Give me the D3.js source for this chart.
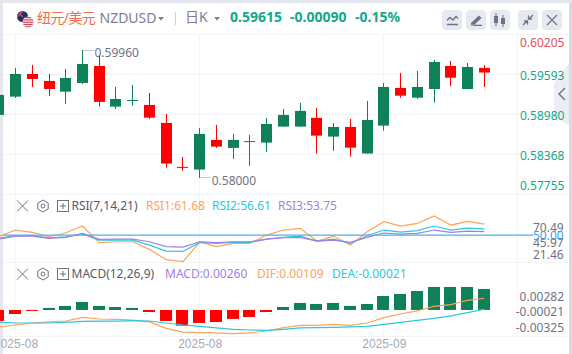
<!DOCTYPE html>
<html>
<head>
<meta charset="utf-8">
<script src="https://cdn.jsdelivr.net/npm/d3@7"></script>
<style>
  html, body { margin: 0; padding: 0; background: #fff; overflow: hidden; }
  svg { display: block; font-family: "Noto Sans", "Noto Sans CJK SC", sans-serif; }
  .xaxis path, .xaxis line { display: none; }
</style>
</head>
<body>
<svg id="chart" width="572" height="354"></svg>
<script>
// candles, left to right
const opens  = [0.58966,0.59246,0.59593,0.59486,0.59322,0.59455,0.59715,0.59093,0.59190,0.59119,0.58843,0.58170,0.58129,0.58583,0.58461,0.58560,0.58542,0.58787,0.58787,0.58920,0.58634,0.58782,0.58374,0.58802,0.59379,0.59230,0.59363,0.59715,0.59363,0.59685];
const closes = [0.59272,0.59593,0.59516,0.59363,0.59532,0.59746,0.59165,0.59210,0.59195,0.58924,0.58221,0.58162,0.58675,0.58481,0.58583,0.58565,0.58828,0.58966,0.59027,0.58649,0.58782,0.58465,0.58889,0.59394,0.59261,0.59394,0.59777,0.59536,0.59700,0.59615];
const highs  = [0.59272,0.59685,0.59731,0.59593,0.59670,0.59960,0.59884,0.59394,0.59425,0.59302,0.58981,0.58323,0.58767,0.58813,0.58675,0.58660,0.58920,0.59057,0.59149,0.59073,0.58843,0.58904,0.59180,0.59455,0.59608,0.59639,0.59807,0.59792,0.59761,0.59731];
const lows   = [0.58966,0.59226,0.59394,0.59256,0.59134,0.59440,0.59093,0.59057,0.59108,0.58904,0.58159,0.58113,0.58000,0.58461,0.58293,0.58185,0.58400,0.58787,0.58787,0.58374,0.58415,0.58328,0.58374,0.58725,0.59230,0.59211,0.59154,0.59409,0.59363,0.59394];

const rsi1 = [48.2,55.4,52.9,48.2,52.5,59.7,41.8,42.8,42.8,34.6,23.5,21.46,42.5,37.5,41.0,41.0,50.0,55.4,57.2,43.5,48.9,39.2,53.6,64.3,59.7,62.5,70.49,60.8,64.7,61.68];
const rsi2 = [46.4,49.3,49.3,47.1,48.2,51.1,44.6,44.6,44.6,39.2,32.8,32.4,42.1,41.0,42.1,42.1,45.7,47.5,48.9,43.5,45.7,41.0,49.3,55.4,53.2,54.7,59.7,55.4,57.5,56.61];
const rsi3 = [45.7,48.9,48.9,46.4,47.5,51.8,45.3,45.7,45.7,42.8,37.5,37.1,42.8,41.8,42.8,42.8,45.7,47.1,47.5,43.5,44.6,42.1,47.5,52.2,51.1,51.8,55.4,52.9,54.3,53.75];

const macdBars = [-0.00136,-0.00050,-0.00012,0.00025,0.00050,0.00099,0.00050,0.00037,0.00025,-0.00025,-0.00136,-0.00194,-0.00161,-0.00149,-0.00111,-0.00087,-0.00025,0.00037,0.00087,0.00074,0.00087,0.00050,0.00074,0.00173,0.00198,0.00235,0.00285,0.00285,0.00285,0.00260];
const dif = [-0.00230,-0.00207,-0.00183,-0.00171,-0.00160,-0.00116,-0.00136,-0.00140,-0.00148,-0.00171,-0.00246,-0.00290,-0.00297,-0.00301,-0.00309,-0.00301,-0.00278,-0.00238,-0.00211,-0.00211,-0.00199,-0.00211,-0.00183,-0.00120,-0.00077,-0.00041,0.00014,0.00033,0.00085,0.00109];
const dea = [-0.00171,-0.00183,-0.00183,-0.00183,-0.00175,-0.00163,-0.00160,-0.00160,-0.00156,-0.00160,-0.00183,-0.00207,-0.00223,-0.00242,-0.00258,-0.00266,-0.00270,-0.00258,-0.00242,-0.00238,-0.00234,-0.00230,-0.00223,-0.00199,-0.00175,-0.00152,-0.00128,-0.00100,-0.00061,-0.00021];

const priceTicks = ["0.60205","0.59593","0.58980","0.58368","0.57755"];
const rsiTicks = ["70.49","45.97","21.46"];
const macdTicks = ["0.00282","-0.00021","-0.00325"];
const dateIndex = [1, 12, 23];
const dateLabels = ["2025-08", "2025-08", "2025-09"];

const UP = "#0f8158", DOWN = "#ff0000", TEAL = "#12a98a", GRID = "#f2f4f8";
const ORANGE = "#ffa357", CYAN = "#2cc7e0", PURPLE = "#a27fe6", LABEL = "#6f7385";

const svg = d3.select("#chart");
const x = d3.scalePoint().domain(d3.range(opens.length)).range([-1.2, 484.3]);
const priceY = d3.scaleLinear().domain([0.60205, 0.57755]).range([34, 194]);
const rsiY = d3.scaleLinear().domain([70.49, 21.46]).range([216, 261.6]);
const barY = d3.scaleLinear().domain([0.00282, -0.00325]).range([287.2, 336.2]);
const lineY = d3.scaleLinear().domain([0.00282, -0.00325]).range([283.6, 335]);
const mid = function(i){ return Math.floor(x(i)) + 0.5; };

// page edges
svg.append("rect").attr("width", 572).attr("height", 3).attr("fill", "#e4e7ee");
svg.append("rect").attr("y", 3).attr("width", 3).attr("height", 351).attr("fill", "#e4e7ee");
svg.append("rect").attr("x", 569).attr("y", 3).attr("width", 3).attr("height", 351).attr("fill", "#d8dbe2");

// grid
[34, 74, 114, 154, 194, 262, 336].forEach(function(y){
  svg.append("line").attr("x1", 3).attr("x2", 569).attr("y1", y + 0.5).attr("y2", y + 0.5)
    .attr("stroke", GRID).attr("stroke-width", 1);
});
dateIndex.forEach(function(i){
  svg.append("line").attr("x1", mid(i)).attr("x2", mid(i)).attr("y1", 34).attr("y2", 336)
    .attr("stroke", GRID);
});
svg.append("line").attr("x1", 517.5).attr("x2", 517.5).attr("y1", 34).attr("y2", 336).attr("stroke", GRID);

function label(px, py, str, size, fill, weight, anchor){
  return svg.append("text").attr("x", px).attr("y", py).attr("dy", "0.35em")
    .attr("font-size", size).attr("fill", fill)
    .attr("font-weight", weight || 400).attr("text-anchor", anchor || "start").text(str);
}

// header
const defs = svg.append("defs");
defs.append("clipPath").attr("id", "nz").append("circle").attr("cx", 22.5).attr("cy", 16.5).attr("r", 5.5);
defs.append("clipPath").attr("id", "us").append("circle").attr("cx", 28).attr("cy", 22).attr("r", 5.5);
svg.append("circle").attr("cx", 22.5).attr("cy", 16.5).attr("r", 5.5).attr("fill", "#20305f");
svg.append("path").attr("d", "M17 11L23 17M23 11L17 17").attr("stroke", "#d9465a").attr("stroke-width", 1.4).attr("clip-path", "url(#nz)");
svg.append("circle").attr("cx", 28).attr("cy", 22).attr("r", 5.5).attr("fill", "#f4f4f6");
d3.range(5).forEach(function(k){
  svg.append("rect").attr("x", 22).attr("y", 17 + k * 2.3).attr("width", 12).attr("height", 1.2)
    .attr("fill", "#d9465a").attr("clip-path", "url(#us)");
});

label(37, 18, "纽元/美元", 14, "#f36c45").attr("letter-spacing", -0.6);
label(99.5, 18.5, "NZDUSD", 14, "#7b7f90");
svg.append("path").attr("d", "M158 17h6l-3 3.5z").attr("fill", "#7b7f90");
svg.append("rect").attr("x", 175).attr("y", 12).attr("width", 1).attr("height", 13).attr("fill", "#cfd2da");
label(185, 17.5, "日K", 14, "#7b7f90");
svg.append("path").attr("d", "M214 17h6l-3 3.5z").attr("fill", "#7b7f90");
label(230, 17, "0.59615", 14, TEAL, 700);
label(290, 17, "-0.00090", 14, TEAL, 700);
label(355, 17, "-0.15%", 14, TEAL, 700);

// toolbar buttons
[442, 466, 490, 518, 542].forEach(function(bx){
  svg.append("rect").attr("x", bx).attr("y", 10).attr("width", 20).attr("height", 20).attr("rx", 4).attr("fill", "#e7e9f0");
});
const ICON = "#6d7182";
svg.append("path").attr("d", "M447 20.5l3-3 3 2.5 3-3.5 2 2 M447 24.5h11").attr("fill", "none").attr("stroke", ICON).attr("stroke-width", 1.3);
svg.append("path").attr("d", "M471 23l8-7.5 2.5 2.5-8 7.5h-2.5z M471 26h11v-1.2h-11z").attr("fill", ICON);
svg.append("path").attr("d", "M494 16h4v7h-4z M495.500 13h1v13h-1z M501 18h4v6h-4z M502.500 15h1v12h-1z").attr("fill", ICON);
svg.append("path").attr("d", "M523 25l4-4 M533 15l-4 4 M524 21h3.500v3.500 M532 19h-3.500v-3.500").attr("fill", "none").attr("stroke", ICON).attr("stroke-width", 1.3);
svg.append("path").attr("d", "M547 15l10 10 M557 15l-10 10").attr("fill", "none").attr("stroke", ICON).attr("stroke-width", 1.2);

// side collapse tab
svg.append("path").attr("d", "M554 83l15-20v62l-15-8z").attr("fill", "#eceef3");
svg.append("path").attr("d", "M565 88l-6 6 6 6").attr("fill", "none").attr("stroke", "#6d7182").attr("stroke-width", 1.4);

// candles
const idx = d3.range(opens.length);
const color = function(i){ return closes[i] >= opens[i] ? UP : DOWN; };
svg.append("g").selectAll("line").data(idx).join("line")
  .attr("x1", mid)
  .attr("x2", mid)
  .attr("y1", function(i){ return priceY(highs[i]); })
  .attr("y2", function(i){ return priceY(lows[i]); })
  .attr("stroke", color).attr("stroke-width", 1);
svg.append("g").selectAll("rect").data(idx).join("rect")
  .attr("x", function(i){ return Math.floor(x(i)) - 5; })
  .attr("width", 11)
  .attr("y", function(i){ return priceY(Math.max(opens[i], closes[i])); })
  .attr("height", function(i){ return Math.max(1, Math.abs(priceY(opens[i]) - priceY(closes[i]))); })
  .attr("fill", color);

// high / low notes
const hi = d3.max(highs), lo = d3.min(lows);
svg.append("line").attr("x1", mid(highs.indexOf(hi))).attr("x2", mid(highs.indexOf(hi)) + 11)
  .attr("y1", priceY(hi) + 0.5).attr("y2", priceY(hi) + 0.5).attr("stroke", "#8a8e9e").attr("stroke-dasharray", "1 1");
label(x(highs.indexOf(hi)) + 12, priceY(hi) + 3, hi.toFixed(5), 12, LABEL);
svg.append("line").attr("x1", mid(lows.indexOf(lo))).attr("x2", mid(lows.indexOf(lo)) + 11)
  .attr("y1", priceY(lo) - 0.5).attr("y2", priceY(lo) - 0.5).attr("stroke", "#8a8e9e").attr("stroke-dasharray", "1 1");
label(x(lows.indexOf(lo)) + 12, priceY(lo) + 2.5, lo.toFixed(5), 12, LABEL);

// price axis labels, squeezed in at both ends
priceTicks.forEach(function(t, i){
  const py = Math.min(186, Math.max(42.5, priceY(+t) + 1.5));
  label(520, py, t, 12, i == 0 ? "#e0505e" : TEAL);
});

function panelHead(py, name, parts){
  svg.append("path").attr("d", "M" + 17 + " " + (py - 5.5) + "l11 11 M" + 28 + " " + (py - 5.5) + "l-11 11")
    .attr("stroke", "#6d7182").attr("stroke-width", 1).attr("fill", "none");
  svg.append("path").attr("d", d3.line()(d3.range(6).map(function(k){
      const a = Math.PI / 6 + k * Math.PI / 3;
      return [43 + 6 * Math.cos(a), py + 6 * Math.sin(a)];
    })) + "Z").attr("fill", "none").attr("stroke", "#6d7182");
  svg.append("circle").attr("cx", 43).attr("cy", py).attr("r", 2).attr("fill", "none").attr("stroke", "#6d7182");
  svg.append("rect").attr("x", 57.5).attr("y", py - 5.5).attr("width", 11).attr("height", 11).attr("fill", "none").attr("stroke", "#6d7182");
  svg.append("path").attr("d", "M60 " + py + "h6 M63 " + (py - 3) + "v6").attr("stroke", "#6d7182");
  label(71.5, py, name, 12, "#555a6b");
  parts.forEach(function(p){ label(p[0], py, p[1], 12, p[2]); });
}

// RSI panel
panelHead(206, "RSI(7,14,21)", [[146, "RSI1:61.68", ORANGE], [212, "RSI2:56.61", CYAN], [278, "RSI3:53.75", PURPLE]]);
const rsiLine = d3.line().x(function(d, i){ return x(i); }).y(function(d){ return rsiY(d); });
[[rsi1, ORANGE], [rsi2, CYAN], [rsi3, PURPLE]].forEach(function(s){
  svg.append("path").attr("d", rsiLine(s[0])).attr("fill", "none").attr("stroke", s[1]).attr("stroke-width", 1.2);
});
svg.append("line").attr("x1", 3).attr("x2", 533).attr("y1", rsiY(50)).attr("y2", rsiY(50))
  .attr("stroke", "#52aef0").attr("stroke-width", 1.2);

label(533, 228, rsiTicks[0], 12, LABEL);
label(533, 242.5, rsiTicks[1], 12, LABEL);
label(533, 255, rsiTicks[2], 12, LABEL);
label(533, 235.5, "50.00", 12, "#3ba0f0");

// MACD panel
panelHead(274, "MACD(12,26,9)", [[165, "MACD:0.00260", PURPLE], [257, "DIF:0.00109", ORANGE], [332, "DEA:-0.00021", CYAN]]);
svg.append("g").selectAll("rect").data(macdBars).join("rect")
  .attr("x", function(d, i){ return Math.floor(x(i)) - 6; })
  .attr("width", 12)
  .attr("y", function(d){ return Math.min(barY(d), barY(0)); })
  .attr("height", function(d){ return Math.abs(barY(d) - barY(0)); })
  .attr("fill", function(d){ return d >= 0 ? UP : DOWN; });
const macdLine = d3.line().x(function(d, i){ return x(i); }).y(function(d){ return lineY(d); });
[[dif, ORANGE], [dea, CYAN]].forEach(function(s){
  svg.append("path").attr("d", macdLine(s[0])).attr("fill", "none").attr("stroke", s[1]).attr("stroke-width", 1.2);
});
label(564, 296.5, macdTicks[0], 12, LABEL, 400, "end");
label(564, 311.5, macdTicks[1], 12, LABEL, 400, "end");
label(564, 327.5, macdTicks[2], 12, LABEL, 400, "end");

// dates
const xAxis = d3.axisBottom(x).tickValues(dateIndex).tickSize(0)
  .tickFormat(function(d, i){ return dateLabels[i]; });
svg.append("g").attr("class", "xaxis").attr("transform", "translate(0,336)").call(xAxis)
  .call(function(g){
    g.selectAll("text").attr("font-size", 12).attr("font-family", null).attr("fill", "#a6a9b8").attr("y", 3);
  });
</script>
</body>
</html>
